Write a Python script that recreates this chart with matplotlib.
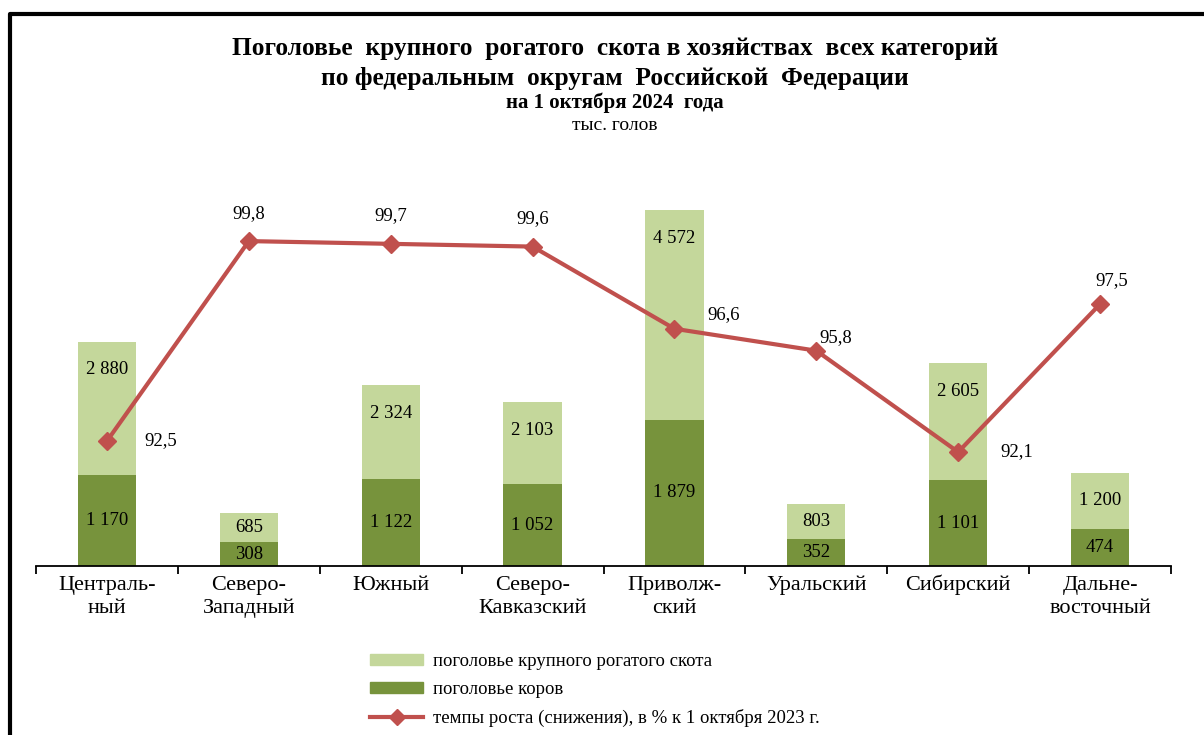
import matplotlib.pyplot as plt
from matplotlib.lines import Line2D
from matplotlib.patches import Patch
import numpy as np

plt.rcParams['font.family'] = ['Liberation Serif', 'DejaVu Serif']

# ---------- Data ----------
districts = ["Централь-\nный", "Северо-\nЗападный", "Южный", "Северо-\nКавказский",
             "Приволж-\nский", "Уральский", "Сибирский", "Дальне-\nвосточный"]
cattle = [2880, 685, 2324, 2103, 4572, 803, 2605, 1200]
cows = [1170, 308, 1122, 1052, 1879, 352, 1101, 474]
growth = [92.5, 99.8, 99.7, 99.6, 96.6, 95.8, 92.1, 97.5]

LIGHT = "#C4D79B"
DARK = "#77933C"
RED = "#C0504D"

def fmt(v):
    return f"{v:,}".replace(",", " ")

fig = plt.figure(figsize=(12.04, 7.35), dpi=100)
ax = fig.add_axes([36/1204, 1-566/735, (1171-36)/1204, 389/735])
ax2 = ax.twinx()

x = np.arange(len(districts))
w = 0.41
ax.bar(x, cattle, w, color=LIGHT, zorder=1)
ax.bar(x, cows, w, color=DARK, zorder=2)
ax.set_xlim(-0.5, len(districts) - 0.5)
ax.set_ylim(0, 5000)

# px per unit for label placement
ppu = 389 / 5000
for i, (c, k) in enumerate(zip(cattle, cows)):
    top_off = min(28 / ppu, (c - k) / 2)
    ax.text(i, c - top_off, fmt(c), ha="center", va="center", fontsize=13.5, zorder=5)
    ax.text(i, k / 2, fmt(k), ha="center", va="center", fontsize=13.5, zorder=5)

# axis styling
for s in ["top", "right", "left"]:
    ax.spines[s].set_visible(False)
    ax2.spines[s].set_visible(False)
ax2.spines["bottom"].set_visible(False)
ax.spines["bottom"].set_linewidth(1.3)
ax.set_yticks([])
ax2.set_yticks([])
ax.set_xticks(np.arange(-0.5, len(districts)), minor=False)
ax.set_xticklabels([])
ax.tick_params(axis="x", length=6, width=1.3, direction="out")
# category names, one line at a time on fixed baselines
for i, name in enumerate(districts):
    for j, part in enumerate(name.split("\n")):
        ax.text(i, -(24 + 23 * j) / ppu, part, ha="center", va="baseline",
                fontsize=16, transform=ax.transData)

# growth line
ax2.plot(x, growth, color=RED, lw=3, marker="D", ms=9, zorder=6)
ax2.set_ylim(87.94, 102.14)
ax2.set_xlim(-0.5, len(districts) - 0.5)
offsets = [(37, 0, "left"), (0, 28, "center"), (0, 28, "center"), (0, 28, "center"),
           (33, 14, "left"), (3, 13, "left"), (42, 0, "left"), (12, 24, "center")]
for i, (g, (dx, dy, ha)) in enumerate(zip(growth, offsets)):
    ax2.annotate(f"{g:.1f}".replace(".", ","), (i, g), xytext=(dx * 0.72, dy * 0.72),
                 textcoords="offset points", ha=ha, va="center", fontsize=13.5)

# titles
fig.text(615/1204, 1-48/735, "Поголовье  крупного  рогатого  скота в хозяйствах  всех категорий",
         ha="center", va="center", fontsize=18.3, fontweight="bold")
fig.text(615/1204, 1-78/735, "по федеральным  округам  Российской  Федерации",
         ha="center", va="center", fontsize=18.3, fontweight="bold")
fig.text(615/1204, 1-103/735, "на 1 октября 2024  года",
         ha="center", va="center", fontsize=15, fontweight="bold")
fig.text(615/1204, 1-126/735, "тыс. голов", ha="center", va="center", fontsize=14)

# legend
handles = [Patch(color=LIGHT), Patch(color=DARK),
           Line2D([], [], color=RED, lw=3, marker="D", ms=8)]
labels = ["поголовье крупного рогатого скота", "поголовье коров",
          "темпы роста (снижения), в % к 1 октября 2023 г."]
fig.legend(handles, labels, loc="upper left", bbox_to_anchor=(353/1204, 1-636/735),
           frameon=False, fontsize=13.5, handlelength=2.85, handleheight=0.55,
           labelspacing=0.6, handletextpad=0.5)

# frame on left and top
fig.add_artist(Line2D([10/1204, 10/1204, 1.0], [0.0, 1-14/735, 1-14/735],
                      transform=fig.transFigure, color="black", lw=3))

fig.savefig("out.png", dpi=100)
